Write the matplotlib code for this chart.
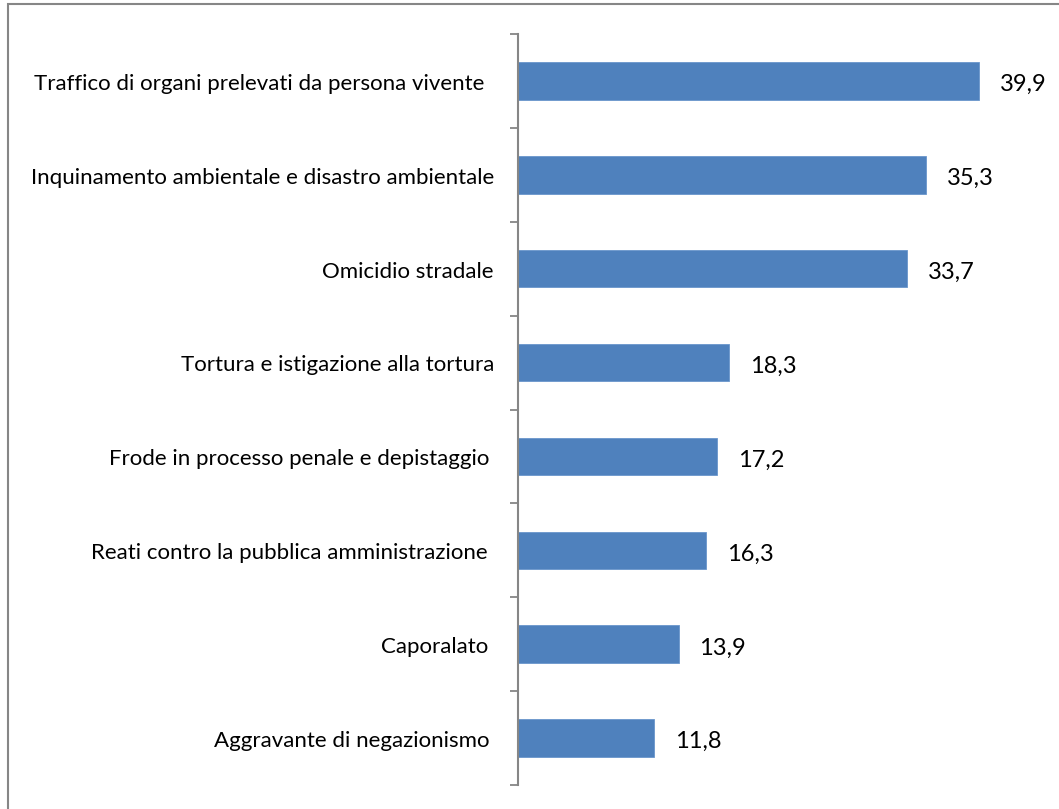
import matplotlib.pyplot as plt
from matplotlib.patches import Rectangle
import matplotlib.transforms as mtransforms
import numpy as np

categories = [
    "Traffico di organi prelevati da persona vivente",
    "Inquinamento ambientale e disastro ambientale",
    "Omicidio stradale",
    "Tortura e istigazione alla tortura",
    "Frode in processo penale e depistaggio",
    "Reati contro la pubblica amministrazione",
    "Caporalato",
    "Aggravante di negazionismo",
]
values = [39.9, 35.3, 33.7, 18.3, 17.2, 16.3, 13.9, 11.8]
value_labels = ["39,9", "35,3", "33,7", "18,3", "17,2", "16,3", "13,9", "11,8"]
# gap (px) between end of each category label and the axis line
label_gaps = [34, 24, 24, 24, 29, 30, 30, 28]

plt.rcParams['font.family'] = ['Lato', 'DejaVu Sans']

fig = plt.figure(figsize=(10.59, 8.09), dpi=100)
ax = fig.add_axes([518 / 1059, 1 - 785 / 809, 520 / 1059, 751 / 809])

n = len(categories)
y = np.arange(n)[::-1]
ax.barh(y, values, height=0.4, color='#4F81BD', edgecolor='#6A96CC', linewidth=0.6)

for yi, v, lab in zip(y, values, value_labels):
    ax.text(v + 1.8, yi - 0.04, lab, va='center', ha='left', fontsize=17, color='black')

# category labels, drawn as text so each keeps its own offset
for yi, cat, gap in zip(y, categories, label_gaps):
    tr = ax.get_yaxis_transform() + mtransforms.ScaledTranslation(-gap / 100, 0, fig.dpi_scale_trans)
    ax.text(0, yi - 0.03, cat, transform=tr, ha='right', va='center', fontsize=16, color='black')

ax.set_xlim(0, 45)
ax.set_ylim(-0.5, n - 0.5)

# ticks at category boundaries
ax.set_yticks(np.arange(-0.5, n, 1.0))
ax.set_yticklabels([])
ax.tick_params(axis='y', length=6, width=1.3, color='#868686', direction='out')

ax.set_xticks([])
for side in ['top', 'right', 'bottom']:
    ax.spines[side].set_visible(False)
ax.spines['left'].set_color('#868686')
ax.spines['left'].set_linewidth(1.5)

# outer chart border
fig.patches.append(Rectangle((8 / 1059, -0.01), 1.02, 1 - 4 / 809 + 0.01,
                             transform=fig.transFigure, fill=False,
                             edgecolor='#868686', linewidth=1.5))

fig.savefig('out.png', dpi=100)
